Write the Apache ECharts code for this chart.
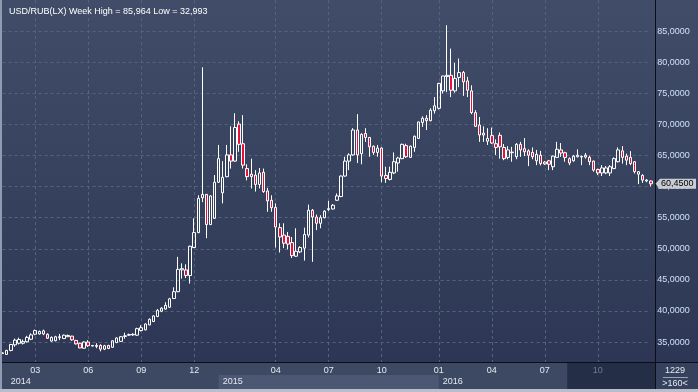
<!DOCTYPE html>
<html><head><meta charset="utf-8">
<script src="https://cdn.jsdelivr.net/npm/echarts@6/dist/echarts.min.js"></script>
<style>html,body{margin:0;padding:0;background:#2f3a56}#c{width:698px;height:392px}</style>
</head><body><div id="c"></div>
<script>
// Weekly USD/RUB candles, oldest first
const open = [
33.15,33.0,33.65,34.55,34.8,34.8,35.05,35.45,36.25,36.3,
36.3,36.25,35.15,35.2,35.7,35.55,36.05,35.95,35.25,34.8,
34.0,35.0,34.35,34.3,34.45,33.85,34.45,34.15,34.9,35.1,
35.9,36.1,36.15,36.1,36.85,36.95,37.75,38.3,39.1,39.95,
40.3,40.6,42.0,43.1,46.6,46.6,45.7,50.2,52.6,58.2,
58.75,53.9,54.9,60.7,59.0,61.6,65.1,64.1,70.05,66.9,
62.9,62.0,61.85,60.35,62.3,59.3,57.8,56.65,53.4,52.2,
52.0,51.0,48.8,49.5,50.1,52.2,56.2,55.1,54.1,55.0,
56.3,56.4,57.8,58.4,61.7,64.1,65.1,69.1,65.3,68.55,
67.9,66.5,65.5,66.2,61.8,61.15,62.2,63.8,64.5,66.6,
64.7,66.3,67.75,70.3,71.0,70.6,72.2,72.6,75.4,77.7,
77.9,75.4,77.55,78.35,77.0,75.4,71.9,69.9,68.6,67.3,
68.2,66.9,68.25,66.3,64.7,65.45,64.8,66.8,66.1,65.75,
65.5,64.15,65.05,63.65,64.15,63.2,64.7,65.9,65.45,64.5,
64.15,64.8,64.75,64.75,64.7,64.1,62.75,62.2,62.2,62.2,
62.9,64.0,65.75,64.9,64.7,64.0,62.0,61.8,60.9,60.9];
const close = [
33.25,33.65,34.6,35.3,35.4,35.1,35.75,36.15,36.85,36.7,
36.8,35.6,35.75,35.85,35.85,36.1,35.85,35.35,34.7,34.05,
35.0,34.4,34.45,34.45,33.85,34.4,33.95,35.2,35.65,35.85,
36.0,36.2,36.25,37.15,37.3,37.9,38.65,39.2,40.1,40.45,
40.9,41.95,43.1,46.7,46.8,45.7,50.4,52.6,58.1,58.75,
53.9,58.5,60.7,64.5,61.5,65.1,64.1,69.5,66.8,63.45,
61.6,61.6,60.35,62.2,59.2,57.7,56.6,53.5,51.9,50.9,
50.75,48.9,49.6,50.2,52.3,56.2,55.1,54.1,55.0,56.05,
56.45,57.0,58.5,61.7,64.1,65.1,69.1,65.1,68.4,67.9,
66.4,65.5,66.2,61.7,61.3,62.3,64.0,64.6,66.8,64.8,
66.5,68.1,70.4,71.0,70.6,72.3,73.0,76.6,77.8,77.9,
75.5,77.4,78.35,76.85,75.5,71.9,69.7,68.3,68.3,67.75,
67.0,66.3,66.4,64.5,65.9,65.55,66.8,65.9,65.6,65.05,
64.8,65.2,63.7,63.95,63.6,64.9,66.0,65.4,64.7,63.8,
64.9,65.05,64.85,65.05,64.0,62.65,62.2,63.0,63.0,63.2,
64.5,65.9,64.7,64.25,63.7,62.4,62.4,61.05,61.05,60.45];
const low = [
33.1,32.99,33.5,34.25,34.6,34.6,34.9,35.3,36.1,36.2,
36.1,35.5,35.05,35.1,35.3,35.5,35.8,35.2,34.6,34.0,
33.95,34.2,34.3,34.0,33.5,33.7,33.85,34.1,34.85,35.0,
35.53,36.0,36.0,36.0,36.7,36.9,37.7,38.2,39.0,39.8,
40.2,40.5,41.9,43.0,45.2,45.3,44.4,50.1,52.5,57.5,
51.7,53.8,54.8,60.6,57.3,61.5,62.9,64.0,65.6,62.9,
61.0,59.7,59.2,59.7,59.0,55.95,55.95,50.2,49.4,50.1,
49.9,48.5,48.7,49.3,48.1,51.8,47.9,53.0,53.3,54.9,
56.1,56.3,57.7,58.3,61.6,62.65,65.0,63.8,63.6,67.2,
64.8,65.1,64.8,60.7,60.6,61.0,62.0,62.4,64.4,64.6,
64.6,65.6,67.7,69.6,69.1,70.5,71.75,72.4,75.0,75.2,
74.4,75.1,76.0,74.6,74.4,71.65,69.6,67.2,67.2,66.7,
66.9,65.1,64.5,64.25,64.4,64.0,64.4,64.8,64.9,63.3,
64.4,63.45,63.4,63.5,62.65,62.65,64.6,64.8,64.0,63.45,
64.0,64.7,63.45,64.5,63.45,62.4,61.85,61.7,62.0,61.7,
62.8,63.9,63.7,63.45,63.45,62.1,60.4,60.6,60.7,60.0];
const high = [
33.35,33.75,34.7,35.55,35.7,35.4,36.0,36.4,37.0,36.85,
37.0,36.4,35.9,36.0,36.3,36.2,36.2,36.0,35.35,34.9,
35.1,35.3,34.5,34.8,34.63,34.55,34.55,35.3,35.75,35.95,
36.5,36.35,36.4,37.3,37.7,38.0,38.8,39.3,40.3,40.6,
41.4,42.1,43.8,48.7,47.65,47.5,50.5,54.9,58.6,79.2,
58.8,58.6,61.85,66.7,64.1,66.7,69.7,71.8,70.5,71.5,
63.6,64.5,62.65,63.0,62.9,59.8,58.6,57.3,54.1,54.1,
52.7,51.9,53.3,50.4,53.4,57.1,56.4,55.5,55.4,56.2,
57.7,57.2,58.9,61.8,64.8,65.35,69.4,71.65,68.6,69.4,
68.0,66.6,66.7,66.3,63.2,63.2,65.5,64.8,66.9,66.9,
66.6,68.2,70.45,71.3,71.5,72.6,74.4,76.7,77.8,85.96,
82.2,79.9,80.6,78.6,77.65,76.3,72.3,71.2,69.7,69.4,
69.5,67.6,68.7,66.85,66.5,66.4,67.0,67.2,67.8,66.0,
66.3,65.9,65.75,64.1,64.3,65.0,67.2,67.0,65.6,64.7,
65.1,66.0,65.0,65.4,65.0,64.2,62.9,63.45,63.3,63.45,
64.7,66.3,66.5,65.3,65.7,64.1,62.5,62.0,61.2,61.0];

// Axis labels: bar index -> text
const monthTicks = {8:'03',21:'06',34:'09',47:'12',67:'04',80:'07',93:'10',107:'01',120:'04',133:'07',146:'10'};
const dimTicks = [146];
const yearTicks = {1:'2014',53:'2015',107:'2016'};
const titleText = 'USD/RUB(LX) Week High = 85,964 Low = 32,993';
const lastDate = '1229';
const barsShown = '>160<';

const cats = open.map((_, i) => String(i));
const ohlc = open.map((o, i) => [o, close[i], low[i], high[i]]);
const fmt = v => v.toFixed(4).replace('.', ',');
const FONT = 'Liberation Sans';

const chart = echarts.init(document.getElementById('c'));
chart.setOption({
  animation: false,
  backgroundColor: {type:'linear', x:0, y:0, x2:0, y2:1,
    colorStops:[{offset:0, color:'#414d68'}, {offset:1, color:'#2b3553'}]},
  title: {text: titleText, left: 4, top: 2,
    textStyle: {color:'#ffffff', fontSize:9, fontWeight:'normal', fontFamily:FONT}},
  grid: [
    {left:2.6, right:47.2, top:0.1, bottom:18.9},
    {left:2.6, right:47.2, top:362, height:1}
  ],
  xAxis: [
    {type:'category', data:cats, boundaryGap:false, gridIndex:0, position:'bottom',
     axisLine:{show:false}, axisTick:{show:false}, axisLabel:{show:false},
     splitLine:{show:true, interval:(i) => (i in monthTicks),
       lineStyle:{color:'#56637e', type:[3,3], width:1}}},
    {type:'category', data:cats, boundaryGap:false, gridIndex:1, position:'bottom', z:5,
     axisLine:{show:false}, axisTick:{show:false}, splitLine:{show:false},
     axisLabel:{interval:(i) => (i in monthTicks), margin:3, color:'#e4eaf2',
       fontSize:9, fontFamily:FONT, hideOverlap:false,
       formatter:(v, i) => dimTicks.includes(i) ? '{dim|' + monthTicks[i] + '}' : (monthTicks[i] || ''),
       rich:{dim:{color:'#6e7b95', fontSize:9, fontFamily:FONT}}}}
  ],
  yAxis: [
    {type:'value', gridIndex:0, position:'right', min:30, max:90, interval:5,
     axisLine:{show:false}, axisTick:{show:false},
     axisLabel:{margin:6.5, color:'#cfe0f6', fontSize:9, fontFamily:FONT,
       formatter: v => (v <= 30 || v >= 90) ? '' : fmt(v)},
     splitLine:{show:true, showMinLine:false, showMaxLine:false,
       lineStyle:{color:'#56637e', type:[3,3], width:1}}},
    {type:'value', gridIndex:1, show:false}
  ],
  series: [{
    type:'candlestick', xAxisIndex:0, yAxisIndex:0, data:ohlc,
    barWidth:3, clip:false,
    itemStyle:{color:'rgba(0,0,0,0)', color0:'#e5103c',
      borderColor:'#ffffff', borderColor0:'#ffffff', borderWidth:1}
  }]
});

const px = i => chart.convertToPixel({xAxisIndex:0}, cats[i]);
const lastClose = close[close.length - 1];
const ty = chart.convertToPixel({yAxisIndex:0}, lastClose);
const p2015 = px(53), p2016 = px(107);
const pDark = (px(138) + px(139)) / 2;
const txt = (x, y, s, fill, align) => ({type:'text', x, y, z:6,
  style:{text:s, fill, font:'9px "' + FONT + '"', align, verticalAlign:'middle'}});
const g = [
  {type:'rect', shape:{x:0, y:363, width:655, height:26}, style:{fill:'#3d4963'}, z:1},
  {type:'rect', shape:{x:p2015, y:375, width:p2016 - p2015, height:14}, style:{fill:'#4b5773'}, z:1},
  {type:'rect', shape:{x:pDark, y:363, width:655 - pDark, height:26}, style:{fill:'#252e47'}, z:1},
  {type:'rect', shape:{x:656, y:363, width:42, height:26}, style:{fill:'#36425d'}, z:1},
  {type:'rect', shape:{x:0, y:362, width:698, height:1}, style:{fill:'#0b0e16'}, z:3},
  {type:'rect', shape:{x:655, y:0, width:1, height:392}, style:{fill:'#0b0e16'}, z:3},
  txt(675, 371, lastDate, '#e6ebf2', 'center'),
  {type:'rect', shape:{x:663, y:377, width:25, height:1}, style:{fill:'#9aa4b6'}, z:6},
  txt(675, 384, barsShown, '#e6ebf2', 'center'),
  {type:'rect', shape:{x:0, y:0, width:2, height:392}, style:{fill:'#8f9bb0'}, z:10},
  {type:'rect', shape:{x:0, y:389, width:698, height:3}, style:{fill:'#b8bfcb'}, z:10},
  {type:'polygon', shape:{points:[[655.5, ty], [660, ty - 5], [696, ty - 5], [696, ty + 5], [660, ty + 5]]},
   style:{fill:'#c9ccd2'}, z:10},
  {type:'text', x:661, y:ty, z:11, style:{text:fmt(lastClose), fill:'#000000', font:'9px "' + FONT + '"', align:'left', verticalAlign:'middle'}}
];
Object.keys(yearTicks).forEach(k => g.push(txt(px(+k) + 4, 382, yearTicks[k], '#e4eaf2', 'left')));
chart.setOption({graphic: g});
</script>
</body></html>
